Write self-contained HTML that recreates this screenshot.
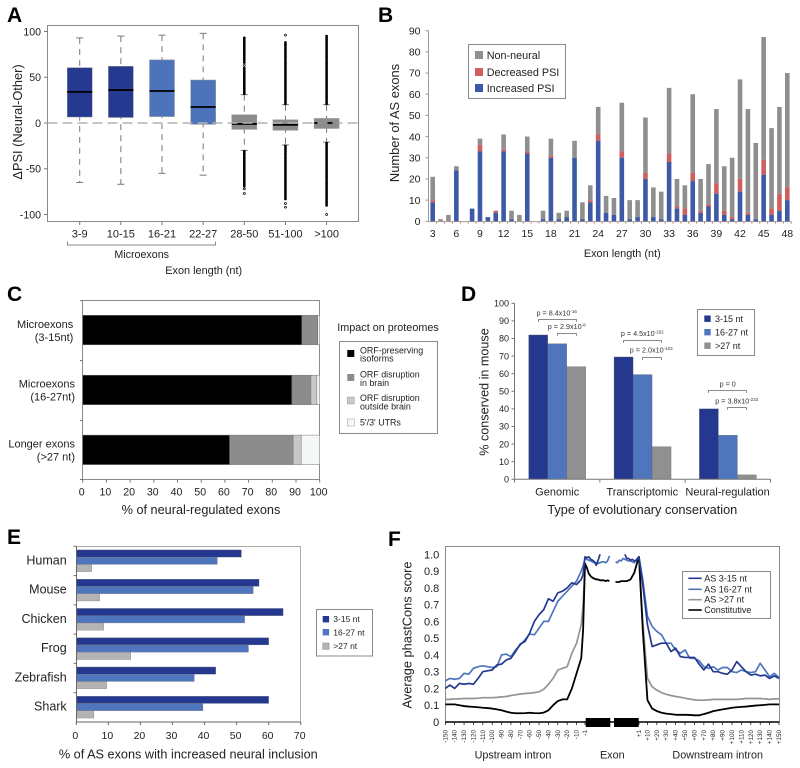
<!DOCTYPE html>
<html lang="en">
<head>
<meta charset="utf-8">
<title>Microexon analysis figure</title>
<style>
html,body{margin:0;padding:0;background:#fff;}
svg{display:block;font-family:"Liberation Sans",sans-serif;fill:#222;filter:blur(0.3px);}
.letter{font-size:21px;font-weight:bold;fill:#000;}
.frame{fill:none;stroke:#8a8a8a;stroke-width:1;}
.leg{fill:#fff;stroke:#8a8a8a;stroke-width:1;}
</style>
</head>
<body>
<svg id="fig" xmlns="http://www.w3.org/2000/svg" width="800" height="768" viewBox="0 0 800 768">
  <rect width="800" height="768" fill="#fff"/>

  <!-- Panel A -->
  <g id="panelA">
    <text class="letter" x="7" y="22">A</text>
    <rect class="frame" x="47.5" y="25.5" width="311" height="196"/>
    <text transform="translate(22,122) rotate(-90)" text-anchor="middle" font-size="12.8">ΔPSI (Neural-Other)</text>
    <path d="M67.5 241.5V245H215.5V241.5" fill="none" stroke="#8a8a8a"/>
    <text x="141.7" y="258" text-anchor="middle" font-size="10.7">Microexons</text>
    <text x="203.7" y="274" text-anchor="middle" font-size="10.9">Exon length (nt)</text>
  </g>

  <!-- Panel B -->
  <g id="panelB">
    <text class="letter" x="378" y="22">B</text>
    <text transform="translate(399,123) rotate(-90)" text-anchor="middle" font-size="12.9">Number of AS exons</text>
    <text x="622.3" y="257" text-anchor="middle" font-size="10.9">Exon length (nt)</text>
    <g>
      <rect class="leg" x="468.5" y="44.5" width="97" height="54"/>
      <rect x="475" y="51" width="8" height="8" fill="#8f8f8f"/>
      <text x="486.7" y="59" font-size="10.8">Non-neural</text>
      <rect x="475" y="68" width="8" height="8" fill="#cf5f5e"/>
      <text x="486.7" y="76" font-size="10.8">Decreased PSI</text>
      <rect x="475" y="84" width="8" height="8" fill="#3c5aa5"/>
      <text x="486.7" y="92" font-size="10.8">Increased PSI</text>
    </g>
  </g>

  <!-- Panel C -->
  <g id="panelC">
    <text class="letter" x="7" y="301">C</text>
    <rect class="frame" x="82.5" y="300.5" width="237" height="179"/>
    <text x="201" y="514" text-anchor="middle" font-size="12.7">% of neural-regulated exons</text>
    <text x="337.3" y="331" font-size="10.8">Impact on proteomes</text>
    <g font-size="8.9">
      <rect class="leg" x="339.5" y="341.5" width="98" height="92"/>
      <rect x="347.3" y="350" width="7" height="7" fill="#000"/>
      <text x="360" y="353.7">ORF-preserving</text>
      <text x="360" y="361.7">isoforms</text>
      <rect x="347.3" y="374" width="7" height="7" fill="#8c8c8c"/>
      <text x="360" y="377.7">ORF disruption</text>
      <text x="360" y="386">in brain</text>
      <rect x="347.3" y="397" width="7" height="7" fill="#c8c8c8" stroke="#999" stroke-width=".5"/>
      <text x="360" y="401">ORF disruption</text>
      <text x="360" y="409.3">outside brain</text>
      <rect x="347.3" y="419" width="7" height="7" fill="#f6f8f8" stroke="#999" stroke-width=".5"/>
      <text x="360" y="425.3">5'/3' UTRs</text>
    </g>
  </g>

  <!-- Panel D -->
  <g id="panelD">
    <text class="letter" x="461" y="301">D</text>
    <text transform="translate(488.3,392) rotate(-90)" text-anchor="middle" font-size="12.6">% conserved in mouse</text>
    <text x="642.3" y="514" text-anchor="middle" font-size="12.75">Type of evolutionary conservation</text>
    <g font-size="7.2" fill="#333">
      <text x="556.7" y="315.7" text-anchor="middle">p = 8.4x10<tspan font-size="4.5" dy="-2.5">-16</tspan></text>
      <path d="M538.5 322V319.5H576.5V322" fill="none" stroke="#666" stroke-width=".7"/>
      <text x="566.7" y="329" text-anchor="middle">p = 2.9x10<tspan font-size="4.5" dy="-2.5">-8</tspan></text>
      <path d="M557.5 336V333.5H576.5V336" fill="none" stroke="#666" stroke-width=".7"/>
      <text x="642.3" y="336" text-anchor="middle">p = 4.5x10<tspan font-size="4.5" dy="-2.5">-162</tspan></text>
      <path d="M623.5 343V340.5H661.5V343" fill="none" stroke="#666" stroke-width=".7"/>
      <text x="651.2" y="352.7" text-anchor="middle">p = 2.0x10<tspan font-size="4.5" dy="-2.5">-103</tspan></text>
      <path d="M642.5 360V357.5H661.5V360" fill="none" stroke="#666" stroke-width=".7"/>
      <text x="727.7" y="386.7" text-anchor="middle">p = 0</text>
      <path d="M708.5 393V390.5H746.5V393" fill="none" stroke="#666" stroke-width=".7"/>
      <text x="736.7" y="403.3" text-anchor="middle">p = 3.8x10<tspan font-size="4.5" dy="-2.5">-233</tspan></text>
      <path d="M727.5 410V407.5H746.5V410" fill="none" stroke="#666" stroke-width=".7"/>
    </g>
    <g font-size="9">
      <rect class="leg" x="697.5" y="309.5" width="57" height="46"/>
      <rect x="704.3" y="315.5" width="6.4" height="6.4" fill="#25388f"/>
      <text x="715" y="322">3-15 nt</text>
      <rect x="704.3" y="329" width="6.4" height="6.4" fill="#4f76bc"/>
      <text x="715" y="335.5">16-27 nt</text>
      <rect x="704.3" y="342.5" width="6.4" height="6.4" fill="#909090"/>
      <text x="715" y="349">&gt;27 nt</text>
    </g>
  </g>

  <!-- Panel E -->
  <g id="panelE">
    <text class="letter" x="7" y="544">E</text>
    <rect x="76.5" y="546.5" width="224" height="175.5" fill="none" stroke="#aaa"/>
    <text x="188.3" y="758.3" text-anchor="middle" font-size="12.7">% of AS exons with increased neural inclusion</text>
    <g font-size="8.5">
      <rect class="leg" x="316.5" y="609.5" width="56" height="46.5"/>
      <rect x="322.7" y="616" width="6.4" height="6.4" fill="#25388f"/>
      <text x="333.3" y="622.2">3-15 nt</text>
      <rect x="322.7" y="629" width="6.4" height="6.4" fill="#4f76bc"/>
      <text x="333.3" y="635.5">16-27 nt</text>
      <rect x="322.7" y="643" width="6.4" height="6.4" fill="#b4b4b4" stroke="#888" stroke-width=".5"/>
      <text x="333.3" y="649">&gt;27 nt</text>
    </g>
  </g>

  <!-- Panel F -->
  <g id="panelF">
    <text class="letter" x="388" y="546">F</text>
    <rect class="frame" x="445.5" y="546.5" width="334" height="175.5"/>
    <text transform="translate(411.7,635) rotate(-90)" text-anchor="middle" font-size="12.8">Average phastCons score</text>
    <text x="513" y="758.7" text-anchor="middle" font-size="10.8">Upstream intron</text>
    <text x="612.3" y="758.7" text-anchor="middle" font-size="10.8">Exon</text>
    <text x="717.7" y="758.7" text-anchor="middle" font-size="10.8">Downstream intron</text>
  </g>
</svg>

<script>
/* ---------- Panel A data ---------- */
const boxCategories = ["3-9","10-15","16-21","22-27","28-50","51-100",">100"];
const boxWhiskerHigh = [93,95,96,98,31,20,20];
const boxWhiskerLow = [-65,-67,-55,-57,-30,-24,-21];
const boxQ1 = [6.5,6,7,-1.5,-7,-8,-6];
const boxMedian = [34,36,35,17.5,-1,-2,0];
const boxQ3 = [60.5,62,69,47,9,3.5,5];
const boxColors = ["#24398f","#24398f","#4d74bb","#4d74bb","#8c8c8c","#8c8c8c","#8c8c8c"];
const boxTicks = [100,50,0,-50,-100];
const outliersHigh = [
  [],[],[],[],
  [32,34,36,38,40,42,44,46,48,50,52,54,56,58,60,63,66,68,70,72,74,76,78,80,82,84,86,88,90,92,93],
  [21,23,25,27,29,31,33,35,37,39,41,43,45,47,49,51,53,55,57,59,61,63,65,67,69,71,73,75,77,79,81,83,85,86,88,96],
  [21,23,25,27,29,31,33,35,37,39,41,43,45,47,49,51,53,55,57,59,61,63,65,67,69,71,73,75,77,79,81,83,85,87,89,91,93,95]
];
const outliersLow = [
  [],[],[],[],
  [-31,-33,-35,-37,-39,-41,-43,-45,-47,-49,-51,-53,-55,-57,-59,-61,-63,-65,-67,-69,-72,-77],
  [-25,-27,-29,-31,-33,-35,-37,-39,-41,-43,-45,-47,-49,-51,-53,-55,-57,-59,-61,-63,-65,-67,-69,-71,-73,-75,-77,-79,-81,-83,-88,-92],
  [-22,-24,-26,-28,-30,-32,-34,-36,-38,-40,-42,-44,-46,-48,-50,-52,-54,-56,-58,-60,-62,-64,-66,-68,-70,-72,-74,-76,-78,-80,-82,-84,-86,-88,-90,-100]
];

/* ---------- Panel B data ---------- */
const exonLengths = [3,4,5,6,7,8,9,10,11,12,13,14,15,16,17,18,19,20,21,22,23,24,25,26,27,28,29,30,31,32,33,34,35,36,37,38,39,40,41,42,43,44,45,46,47,48];
const increasedPSI = [9,0,0,24,0,6,33,2,4,33,1,0,32,0,1,30,1,2,30,1,9,38,4,3,30,1,2,20,2,1,28,6,3,19,4,7,13,3,1,14,3,1,22,3,5,10];
const decreasedPSI = [1,0,0,0,0,0,3,0,1,1,0,0,1,0,0,1,0,0,0,0,1,3,0,0,3,0,0,3,0,0,4,1,3,4,1,1,5,2,1,6,1,0,7,3,8,6];
const nonNeural = [11,1,3,2,0,0,3,0,0,7,4,3,7,0,4,8,3,3,8,8,7,13,8,8,23,9,8,26,14,13,31,13,11,37,15,19,35,21,28,47,49,36,58,38,41,54];
const barBYTicks = [0,10,20,30,40,50,60,70,80,90];

/* ---------- Panel C data ---------- */
const impactCategories = [["Microexons","(3-15nt)"],["Microexons","(16-27nt)"],["Longer exons","(>27 nt)"]];
const orfPreserving = [92.5,88.3,62];
const disruptionBrain = [6.5,8,26.8];
const disruptionOutside = [0.2,2.5,3.4];
const utrs = [0.8,1.2,7.8];
const impactTicks = [0,10,20,30,40,50,60,70,80,90,100];

/* ---------- Panel D data ---------- */
const conservationCategories = ["Genomic","Transcriptomic","Neural-regulation"];
const conserved3to15 = [82,69.5,40];
const conserved16to27 = [77,59.5,25];
const conservedOver27 = [64,18.5,2.5];
const conservationTicks = [0,10,20,30,40,50,60,70,80,90,100];

/* ---------- Panel E data ---------- */
const speciesNames = ["Human","Mouse","Chicken","Frog","Zebrafish","Shark"];
const species3to15 = [51.5,57,64.5,60,43.5,60];
const species16to27 = [44,55.2,52.5,53.7,36.8,39.5];
const speciesOver27 = [4.8,7.3,8.6,17,9.5,5.5];
const speciesTicks = [0,10,20,30,40,50,60,70];

/* ---------- Panel F data ---------- */
const upstreamPos = [-150,-145,-140,-135,-130,-125,-120,-115,-110,-105,-100,-95,-90,-85,-80,-75,-70,-65,-60,-55,-50,-45,-40,-35,-30,-25,-20,-15,-10,-5,-3,-1];
const up3to15 = [.20,.22,.20,.23,.225,.23,.225,.26,.30,.305,.31,.34,.345,.37,.38,.42,.465,.48,.53,.60,.64,.67,.735,.72,.77,.78,.80,.83,.82,.85,.88,.985];
const up16to27 = [.245,.26,.255,.26,.29,.285,.32,.33,.335,.33,.325,.33,.40,.405,.39,.43,.46,.49,.525,.52,.56,.60,.60,.66,.72,.75,.78,.81,.84,.90,.93,.975];
const upOver27 = [.135,.135,.138,.138,.14,.14,.14,.142,.145,.145,.145,.147,.15,.152,.158,.162,.167,.17,.172,.175,.18,.195,.225,.26,.31,.32,.33,.41,.47,.58,.70,.94];
const upConstitutive = [.105,.105,.105,.10,.095,.092,.09,.088,.085,.083,.08,.075,.07,.062,.055,.052,.052,.053,.055,.053,.052,.056,.07,.10,.125,.135,.135,.20,.29,.38,.55,.945];
const exonStartPos = [2,4,6,8,10,12,14,16,18,20,22,24,26];
const exonStart3to15 = [.98,.985,.97,.965,.955,.935,.965,1.0];
const exonStart16to27 = [.97,.965,.96,.955,.95,.95,.945,.95,.955,.955,.95,.96,.99];
const exonStartConstitutive = [.92,.885,.87,.86,.855,.85,.85,.845,.845,.845,.84,.845,.84];
const exonEndPos = [-26,-24,-22,-20,-18,-16,-14,-12,-10,-8,-6,-4,-2];
const exonEnd3to15 = [1.0,.975,.975,.965,.97,.96,.965,.98];
const exonEnd16to27 = [.955,.95,.965,.96,.975,.97,.965,.96,.96,.955,.95,.965,.975];
const exonEndConstitutive = [.835,.835,.835,.84,.84,.84,.84,.845,.85,.87,.89,.93,.97];
const downstreamPos = [1,5,10,15,20,25,30,35,40,45,50,55,60,65,70,75,80,85,90,95,100,105,110,115,120,125,130,135,140,145,150];
const down3to15 = [.985,.82,.58,.45,.46,.47,.47,.42,.44,.39,.385,.385,.385,.345,.31,.345,.30,.30,.29,.285,.31,.36,.33,.30,.28,.285,.275,.28,.26,.275,.26];
const down16to27 = [.98,.85,.63,.57,.54,.52,.47,.47,.43,.41,.43,.38,.38,.365,.33,.32,.33,.31,.325,.325,.30,.295,.31,.30,.295,.30,.35,.31,.27,.29,.265];
const downOver27 = [.97,.60,.26,.21,.19,.175,.165,.158,.152,.148,.142,.137,.132,.13,.13,.132,.135,.135,.135,.135,.135,.135,.137,.14,.14,.14,.14,.138,.135,.138,.138];
const downConstitutive = [.985,.55,.13,.08,.065,.055,.05,.047,.043,.043,.043,.042,.04,.04,.047,.055,.065,.07,.075,.08,.085,.088,.09,.092,.095,.098,.10,.102,.105,.105,.105];
const phastTicks = ["0","0.1","0.2","0.3","0.4","0.5","0.6","0.7","0.8","0.9","1.0"];
const upstreamTicks = [-150,-140,-130,-120,-110,-100,-90,-80,-70,-60,-50,-40,-30,-20,-10,-1];
const downstreamTicks = [1,10,20,30,40,50,60,70,80,90,100,110,120,130,140,150];

/* ---------- helpers and axis functions ---------- */
const NS = "http://www.w3.org/2000/svg";
function mk(tag, attrs, parent) {
  const e = document.createElementNS(NS, tag);
  for (const k in attrs) e.setAttribute(k, attrs[k]);
  parent.appendChild(e);
  return e;
}
function label(txt, x, y, size, anchor, parent) {
  const t = mk("text", {x: x, y: y, "font-size": size, "text-anchor": anchor}, parent);
  t.textContent = txt;
  return t;
}
const xA = i => 79.7 + i * 41.15;
const yA = v => 123 - v * 0.915;
const xB = n => 432.7 + (n - 3) * 7.88;
const yB = v => 221.3 - v * 2.118;
const xC = v => 82.7 + v * 2.37;
const yC = i => 315.3 + i * 59.9;
const xD = (group, k) => 528.7 + group * 85.35 + k * 19;
const yD = v => 479.3 - v * 1.76;
const xE = v => 76.3 + v * 3.206;
const yE = i => 546.3 + i * 29.27;
const yF = v => 722 - v * 167.7;
const xFup = p => 585 + (p + 1) * 0.9376;
const xFexonStart = p => 585 + p * 0.94;
const xFexonEnd = p => 639 + (p + 1) * 0.94;
const xFdown = p => 639 + (p - 1) * 0.9396;

/* ---------- Panel A ---------- */
(function () {
  const g = document.getElementById("panelA");
  boxTicks.forEach(function (t) {
    const tick = mk("line", {x1: 44, x2: 47.5, y1: yA(t), y2: yA(t), stroke: "#777"}, g);
    
    
    const lab = label(String(t), 41, yA(t) + 3.8, 10.6, "end", g);
    
    
  });
  boxCategories.forEach(function (c, i) {
    const x = xA(i);
    const tick = mk("line", {x1: x, x2: x, y1: 221.5, y2: 225, stroke: "#777"}, g);
    
    
    const lab = label(c, x, 237.3, 11, "middle", g);
    
    
    const whisker = mk("line", {x1: x, x2: x, y1: yA(boxWhiskerHigh[i]), y2: yA(boxWhiskerLow[i]), stroke: "#777", "stroke-dasharray": "6 5"}, g);
    
    
    [boxWhiskerHigh[i], boxWhiskerLow[i]].forEach(function (w) {
      const cap = mk("line", {x1: x - 3.5, x2: x + 3.5, y1: yA(w), y2: yA(w), stroke: "#777"}, g);
      
      
    });
    const allOutliers = outliersHigh[i].concat(outliersLow[i]);
    allOutliers.forEach(function (o) {
      const dense = allOutliers.some(function (v) { return v !== o && Math.abs(v - o) <= 2.1; });
      const dot = mk("circle", {cx: x, cy: yA(o), r: 1, fill: dense ? "#000" : "#e8e8e8", stroke: "#000", "stroke-width": 0.7}, g);
      
      
    });
    const box = mk("rect", {x: x - 12.5, y: yA(boxQ3[i]), width: 25, height: yA(boxQ1[i]) - yA(boxQ3[i]), fill: boxColors[i], stroke: "#999", "stroke-width": 0.5}, g);
    
    
    const med = mk("line", {x1: x - 12.5, x2: x + 12.5, y1: yA(boxMedian[i]), y2: yA(boxMedian[i]), stroke: "#000", "stroke-width": 1.8}, g);
    
    
  });
  const zero = mk("line", {x1: 47.5, x2: 358, y1: yA(0), y2: yA(0), stroke: "#b4b4b4", "stroke-width": 1.4, "stroke-dasharray": "10 5"}, g);
  
  
})();

/* ---------- Panel B ---------- */
(function () {
  const g = document.getElementById("panelB");
  const yAxis = mk("line", {x1: 428.5, x2: 428.5, y1: yB(90), y2: yB(0), stroke: "#999"}, g);
  
  
  const xAxis = mk("line", {x1: 428.5, x2: 791.5, y1: yB(0) + 0.3, y2: yB(0) + 0.3, stroke: "#b09a90"}, g);
  
  
  barBYTicks.forEach(function (t) {
    const tick = mk("line", {x1: 425.5, x2: 428.5, y1: yB(t), y2: yB(t), stroke: "#999"}, g);
    
    
    const lab = label(String(t), 420.5, yB(t) + 3.7, 10.5, "end", g);
    
    
  });
  exonLengths.forEach(function (n, i) {
    const x = xB(n) - 2.3;
    const inc = increasedPSI[i], dec = decreasedPSI[i], non = nonNeural[i];
    const tick = mk("line", {x1: xB(n) + 3.94, x2: xB(n) + 3.94, y1: yB(0), y2: yB(0) + 2.5, stroke: "#b09a90"}, g);
    
    
    if (non > 0) {
      const b = mk("rect", {x: x, y: yB(inc + dec + non), width: 4.6, height: yB(inc + dec) - yB(inc + dec + non), fill: "#8f8f8f"}, g);
      
      
    }
    if (dec > 0) {
      const b = mk("rect", {x: x, y: yB(inc + dec), width: 4.6, height: yB(inc) - yB(inc + dec), fill: "#cf5f5e"}, g);
      
      
    }
    if (inc > 0) {
      const b = mk("rect", {x: x, y: yB(inc), width: 4.6, height: yB(0) - yB(inc), fill: "#3c5aa5"}, g);
      
      
    }
    if (n % 3 === 0) {
      const lab = label(String(n), xB(n), 237, 10.5, "middle", g);
      
      
    }
  });
})();

/* ---------- Panel C ---------- */
(function () {
  const g = document.getElementById("panelC");
  const segColors = ["#000", "#8c8c8c", "#c8c8c8", "#f6f8f8"];
  const labelRight = [73.3, 75, 75];
  impactCategories.forEach(function (c, i) {
    const vals = [orfPreserving[i], disruptionBrain[i], disruptionOutside[i], utrs[i]];
    let acc = 0;
    vals.forEach(function (v, k) {
      const seg = mk("rect", {x: xC(acc), y: yC(i), width: xC(acc + v) - xC(acc), height: 29.5, fill: segColors[k], stroke: "#777", "stroke-width": 0.5}, g);
      
      
      acc += v;
    });
    const l1 = label(c[0], labelRight[i], yC(i) + 12.5, 11, "end", g);
    
    
    const l2 = label(c[1], labelRight[i], yC(i) + 25.5, 11, "end", g);
    
    
    const tick = mk("line", {x1: 80, x2: 82.7, y1: yC(i) - 14.7, y2: yC(i) - 14.7, stroke: "#777"}, g);
    
    
  });
  const lastTick = mk("line", {x1: 80, x2: 82.7, y1: 479.5, y2: 479.5, stroke: "#777"}, g);
  
  
  impactTicks.forEach(function (t) {
    const tick = mk("line", {x1: xC(t), x2: xC(t), y1: 479.5, y2: 482.5, stroke: "#777"}, g);
    
    
    const lab = label(String(t), xC(t) - 1, 495.7, 10.6, "middle", g);
    
    
  });
})();

/* ---------- Panel D ---------- */
(function () {
  const g = document.getElementById("panelD");
  const colors = ["#25388f", "#4f76bc", "#909090"];
  const series = [conserved3to15, conserved16to27, conservedOver27];
  conservationCategories.forEach(function (c, i) {
    series.forEach(function (s, k) {
      const b = mk("rect", {x: xD(i, k), y: yD(s[i]), width: 19, height: yD(0) - yD(s[i]), fill: colors[k], stroke: "#555", "stroke-width": 0.3}, g);
      
      
    });
    const lab = label(c, xD(i, 1) + 9.5 + (i === 1 ? -0.3 : i === 2 ? -0.3 : 0), 495.7, 11, "middle", g);
    
    
    const tick = mk("line", {x1: 514.5 + i * 85.35, x2: 514.5 + i * 85.35, y1: 479.3, y2: 482.5, stroke: "#777"}, g);
    
    
  });
  const endTick = mk("line", {x1: 770.5, x2: 770.5, y1: 479.3, y2: 482.5, stroke: "#777"}, g);
  
  
  const yAxis = mk("line", {x1: 514.5, x2: 514.5, y1: yD(100), y2: yD(0), stroke: "#777"}, g);
  
  
  const xAxis = mk("line", {x1: 514.5, x2: 770.5, y1: yD(0), y2: yD(0), stroke: "#777"}, g);
  
  
  conservationTicks.forEach(function (t) {
    const tick = mk("line", {x1: 511.5, x2: 514.5, y1: yD(t), y2: yD(t), stroke: "#777"}, g);
    
    
    const lab = label(String(t), 509, yD(t) + 3.2, 9, "end", g);
    
    
  });
})();

/* ---------- Panel E ---------- */
(function () {
  const g = document.getElementById("panelE");
  const colors = ["#25388f", "#4f76bc", "#b4b4b4"];
  const series = [species3to15, species16to27, speciesOver27];
  speciesNames.forEach(function (name, i) {
    series.forEach(function (s, k) {
      const b = mk("rect", {x: xE(0), y: yE(i) + 3.6 + k * 7.3, width: xE(s[i]) - xE(0), height: 7.2, fill: colors[k], stroke: "#777", "stroke-width": 0.3}, g);
      
      
    });
    const lab = label(name, 66.7, yE(i) + 18, 12.5, "end", g);
    
    
    const tick = mk("line", {x1: 73.5, x2: 76.5, y1: yE(i), y2: yE(i), stroke: "#777"}, g);
    
    
  });
  const yAxis = mk("line", {x1: 76.5, x2: 76.5, y1: 546.5, y2: 722, stroke: "#666"}, g);
  
  
  const xAxis = mk("line", {x1: 76.5, x2: 300.5, y1: 722, y2: 722, stroke: "#666"}, g);
  
  
  speciesTicks.forEach(function (t) {
    const tick = mk("line", {x1: xE(t), x2: xE(t), y1: 722, y2: 725, stroke: "#666"}, g);
    
    
    const lab = label(String(t), xE(t) - 1, 739, 10.5, "middle", g);
    
    
  });
})();

/* ---------- Panel F ---------- */
(function () {
  const g = document.getElementById("panelF");
  phastTicks.forEach(function (t) {
    const lab = label(t, 439.3, yF(parseFloat(t)) + 4, 11, "end", g);
    
    
  });
  function pathFrom(posA, valsA, fnA) {
    return valsA.map(function (v, i) {
      return (i ? "L" : "M") + fnA(posA[i]).toFixed(2) + " " + yF(v).toFixed(2);
    }).join("");
  }
  const seriesF = [
    {name: "over-27", color: "#949494", w: 1.7, up: upOver27, ds: [], de: [], down: downOver27},
    {name: "constitutive", color: "#000", w: 1.8, up: upConstitutive, ds: exonStartConstitutive, de: exonEndConstitutive, down: downConstitutive},
    {name: "16-27", color: "#4f76bc", w: 1.7, up: up16to27, ds: exonStart16to27, de: exonEnd16to27, down: down16to27},
    {name: "3-15", color: "#25388f", w: 1.7, up: up3to15, ds: exonStart3to15, de: exonEnd3to15, down: down3to15}
  ];
  seriesF.forEach(function (s) {
    const left = pathFrom(upstreamPos, s.up, xFup);
    const exonL = s.ds.map(function (v, i) { return "L" + xFexonStart(exonStartPos[i]).toFixed(2) + " " + yF(v).toFixed(2); }).join("");
    const pL = mk("path", {d: left + exonL, fill: "none", stroke: s.color, "stroke-width": s.w, "stroke-linejoin": "round"}, g);
    
    
    const posEnd = exonEndPos.slice(exonEndPos.length - s.de.length);
    const exonR = s.de.map(function (v, i) { return (i ? "L" : "M") + xFexonEnd(posEnd[i]).toFixed(2) + " " + yF(v).toFixed(2); }).join("");
    const right = pathFrom(downstreamPos, s.down, xFdown);
    const pR = mk("path", {d: s.de.length ? exonR + right.replace(/^M/, "L") : right, fill: "none", stroke: s.color, "stroke-width": s.w, "stroke-linejoin": "round"}, g);
    
    
  });
  const axis = mk("line", {x1: 445.3, x2: 779.3, y1: 722, y2: 722, stroke: "#000", "stroke-width": 1.5}, g);
  
  
  const exonA = mk("rect", {x: 585.7, y: 718, width: 24.6, height: 9, fill: "#000"}, g);
  
  
  const exonB = mk("rect", {x: 614, y: 718, width: 24.7, height: 9, fill: "#000"}, g);
  
  
  function xTick(x, txt) {
    const tick = mk("line", {x1: x, x2: x, y1: 722, y2: 725, stroke: "#000", "stroke-width": 0.7}, g);
    
    
    const lab = mk("text", {transform: "translate(" + (x + 2) + ",730) rotate(-90)", "font-size": 6.3, "text-anchor": "end"}, g);
    lab.textContent = txt;
    
    
  }
  upstreamTicks.forEach(function (t) { xTick(xFup(t), String(t)); });
  downstreamTicks.forEach(function (t) { xTick(xFdown(t), "+" + t); });

  const legendNames = ["AS 3-15 nt", "AS 16-27 nt", "AS >27 nt", "Constitutive"];
  const legendColors = ["#25388f", "#4f76bc", "#949494", "#000"];
  const legendBaselines = [581.3, 592.3, 602.7, 613];
  const box = mk("rect", {x: 682.5, y: 571.5, width: 88, height: 47, fill: "#fff", stroke: "#8a8a8a"}, g);
  
  
  legendNames.forEach(function (n, i) {
    const ln = mk("line", {x1: 688.3, x2: 701.7, y1: legendBaselines[i] - 3, y2: legendBaselines[i] - 3, stroke: legendColors[i], "stroke-width": 1.6}, g);
    
    
    const lab = label(n, 704.3, legendBaselines[i], 9, "start", g);
    
    
  });
})();
</script>
</body>
</html>
